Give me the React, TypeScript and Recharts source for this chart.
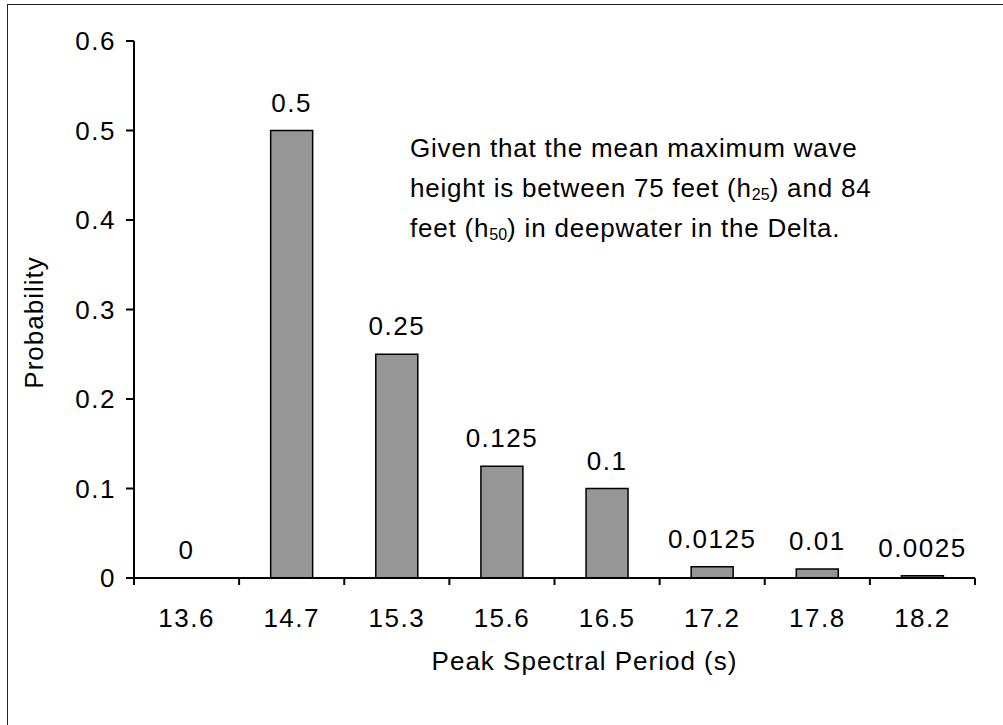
import { Bar, ComposedChart, LabelList, Line, XAxis, YAxis } from "recharts";

const periods = ["13.6", "14.7", "15.3", "15.6", "16.5", "17.2", "17.8", "18.2"];
const probabilities = [0, 0.5, 0.25, 0.125, 0.1, 0.0125, 0.01, 0.0025];
const yTicks = [0, 0.1, 0.2, 0.3, 0.4, 0.5, 0.6];

const rows = periods.map((period, i) => ({ period, value: probabilities[i] }));

const FONT = "'Liberation Sans', Arial, Helvetica, sans-serif";

// excel-style category axis: tick marks sit between categories
function PeriodTick(props: any) {
  const { x, y, payload, index, visibleTicksCount } = props;
  const half = payload?.offset ?? 0;
  const last = index === visibleTicksCount - 1;
  return (
    <g>
      <line x1={x - half} x2={x - half} y1={y} y2={y + 7} stroke="#000" strokeWidth={2} />
      {last && <line x1={x + half} x2={x + half} y1={y} y2={y + 7} stroke="#000" strokeWidth={2} />}
      <text
        x={x}
        y={y + 49}
        textAnchor="middle"
        fill="#000"
        fontSize={26}
        fontFamily={FONT}
        style={{ letterSpacing: 1.5 }}
      >
        {payload.value}
      </text>
    </g>
  );
}

// value above each bar; carried by an invisible line so the zero bar gets one too
function ValueLabel(props: any) {
  const { x, y, value } = props;
  return (
    <text
      x={Number(x)}
      y={Number(y) - 19}
      textAnchor="middle"
      fill="#000"
      fontSize={26}
      fontFamily={FONT}
      style={{ letterSpacing: 1.5 }}
    >
      {String(value)}
    </text>
  );
}

export default function App() {
  return (
    <div style={{ position: "relative", width: 1003, height: 725, overflow: "hidden", fontFamily: FONT }}>
      <style>{`body{margin:0}`}</style>
      <div
        style={{
          position: "absolute",
          left: 7,
          top: 4,
          right: 0,
          bottom: 0,
          borderLeft: "1px solid #222",
          borderTop: "1px solid #222",
        }}
      />
      <ComposedChart
        width={1003}
        height={725}
        data={rows}
        margin={{ top: 41, right: 28, bottom: 47, left: 0 }}
        barCategoryGap="30%"
        style={{ position: "absolute", left: 0, top: 0 }}
      >
        <XAxis
          dataKey="period"
          height={100}
          axisLine={{ stroke: "#000", strokeWidth: 2 }}
          tickLine={false}
          tickSize={0}
          tickMargin={0}
          tick={<PeriodTick />}
          interval={0}
          label={{
            value: "Peak Spectral Period (s)",
            position: "center",
            dx: 30,
            dy: 33,
            fill: "#000",
            fontSize: 26,
            fontFamily: FONT,
            style: { letterSpacing: 1 },
          }}
        />
        <XAxis
          xAxisId="top"
          orientation="top"
          dataKey="period"
          height={0}
          tick={false}
          tickLine={false}
          axisLine={{ stroke: "#000", strokeWidth: 2 }}
        />
        <YAxis
          domain={[0, 0.6]}
          ticks={yTicks}
          width={134}
          axisLine={{ stroke: "#000", strokeWidth: 2 }}
          tickLine={{ stroke: "#000", strokeWidth: 2 }}
          tickSize={8}
          tickMargin={10}
          tick={{ fill: "#000", fontSize: 26, fontFamily: FONT, style: { letterSpacing: 1.5 } }}
          label={{
            value: "Probability",
            angle: -90,
            position: "center",
            dx: -33,
            dy: 13,
            fill: "#000",
            fontSize: 26,
            fontFamily: FONT,
            style: { letterSpacing: 1 },
          }}
        />
        <YAxis
          yAxisId="right"
          orientation="right"
          domain={[0, 0.6]}
          width={0}
          tick={false}
          tickLine={false}
          axisLine={{ stroke: "#000", strokeWidth: 2 }}
        />
        <Bar dataKey="value" fill="#969696" stroke="#000" strokeWidth={1.5} isAnimationActive={false} />
        <Line
          dataKey="value"
          stroke="none"
          dot={false}
          activeDot={false}
          isAnimationActive={false}
        >
          <LabelList dataKey="value" content={<ValueLabel />} />
        </Line>
      </ComposedChart>
      <div
        style={{
          position: "absolute",
          left: 410,
          top: 128,
          fontSize: 26,
          lineHeight: "40px",
          letterSpacing: 0.8,
          color: "#000",
          whiteSpace: "nowrap",
        }}
      >
        Given that the mean maximum wave
        <br />
        height is between 75 feet (h<sub style={{ fontSize: 16, lineHeight: 0, letterSpacing: 0, verticalAlign: "-3px" }}>25</sub>) and 84
        <br />
        feet (h<sub style={{ fontSize: 16, lineHeight: 0, letterSpacing: 0, verticalAlign: "-3px" }}>50</sub>) in deepwater in the Delta.
      </div>
    </div>
  );
}
